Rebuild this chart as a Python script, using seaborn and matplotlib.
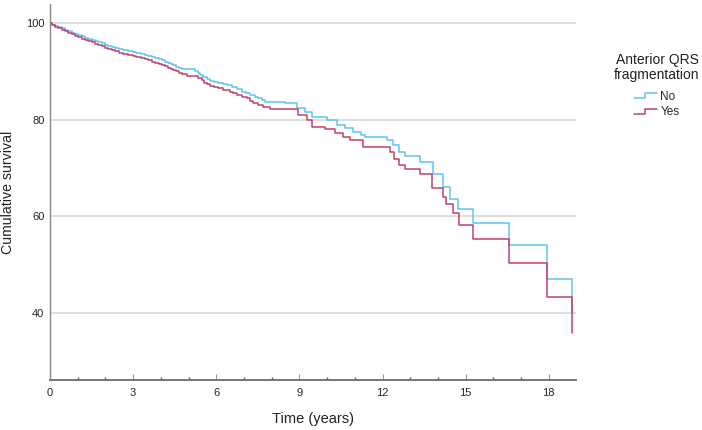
import numpy as np
import pandas as pd
import seaborn as sns
import matplotlib.pyplot as plt
from matplotlib.lines import Line2D
from matplotlib.legend_handler import HandlerBase

# Kaplan-Meier steps (time in years, survival in %)
no_time = [0, 0.08, 0.18, 0.30, 0.42, 0.54, 0.66, 0.78, 0.90, 1.02, 1.14, 1.26, 1.38, 1.50,
           1.62, 1.75, 1.88, 2.00, 2.10, 2.22, 2.35, 2.50, 2.62, 2.72, 2.83, 2.98, 3.12, 3.28,
           3.43, 3.55, 3.68, 3.80, 3.92, 4.03, 4.15, 4.25, 4.36, 4.45, 4.55, 4.65, 4.78, 4.93,
           5.23, 5.35, 5.41, 5.52, 5.65, 5.78, 5.90, 6.07, 6.25, 6.40, 6.55, 6.73, 6.92, 7.08,
           7.22, 7.38, 7.52, 7.64, 7.76, 8.48, 8.9, 9.2, 9.44, 9.98, 10.34, 10.64, 10.94, 11.24,
           11.36, 12.15, 12.39, 12.6, 12.8, 13.35, 13.83, 14.19, 14.45, 14.73, 15.25, 16.55,
           17.92, 18.83]
no_surv = [100, 99.7, 99.4, 99.1, 98.9, 98.6, 98.3, 98.0, 97.8, 97.5, 97.3, 97.0, 96.8, 96.5,
           96.3, 96.0, 95.8, 95.5, 95.3, 95.1, 94.9, 94.7, 94.5, 94.4, 94.2, 94.0, 93.8, 93.6,
           93.4, 93.1, 92.9, 92.7, 92.5, 92.3, 92.0, 91.7, 91.5, 91.3, 91.0, 90.8, 90.6, 90.4,
           90.1, 89.6, 89.2, 88.8, 88.4, 88.1, 87.8, 87.7, 87.4, 87.1, 86.8, 86.3, 85.8, 85.5,
           85.1, 84.8, 84.4, 84.0, 83.7, 83.4, 82.5, 81.6, 80.5, 79.9, 79.0, 78.2, 77.5, 76.8,
           76.5, 75.8, 74.7, 73.4, 72.5, 71.3, 68.7, 66.0, 63.5, 61.6, 58.7, 54.0,
           47.1, 40.0]

yes_time = [0, 0.08, 0.18, 0.30, 0.42, 0.54, 0.66, 0.78, 0.90, 1.02, 1.14, 1.26, 1.38, 1.50,
            1.62, 1.75, 1.88, 2.00, 2.10, 2.22, 2.35, 2.50, 2.62, 2.72, 2.83, 2.98, 3.12, 3.28,
            3.43, 3.55, 3.68, 3.80, 3.92, 4.03, 4.15, 4.25, 4.36, 4.45, 4.55, 4.65, 4.78, 4.93,
            5.23, 5.35, 5.47, 5.56, 5.65, 5.78, 5.90, 6.07, 6.25, 6.49, 6.62, 6.75, 6.92, 7.10,
            7.22, 7.34, 7.50, 7.70, 7.94, 8.96, 9.26, 9.44, 9.92, 10.28, 10.58, 10.82, 11.3,
            12.27, 12.4, 12.6, 12.8, 13.35, 13.8, 14.19, 14.3, 14.55, 14.75, 15.25, 16.55,
            17.92, 18.83]
yes_surv = [100, 99.7, 99.3, 98.9, 98.6, 98.3, 98.0, 97.7, 97.4, 97.1, 96.8, 96.5, 96.2, 96.0,
            95.7, 95.4, 95.2, 94.9, 94.7, 94.5, 94.2, 93.9, 93.7, 93.6, 93.4, 93.2, 93.0, 92.7,
            92.5, 92.3, 92.0, 91.8, 91.6, 91.4, 91.1, 90.8, 90.5, 90.3, 90.0, 89.7, 89.4, 89.1,
            89.0, 88.6, 88.2, 87.7, 87.3, 87.0, 86.8, 86.6, 86.2, 85.8, 85.5, 85.1, 84.8, 84.4,
            83.9, 83.4, 83.0, 82.6, 82.2, 81.0, 79.9, 78.5, 78.0, 77.2, 76.5, 75.8, 74.4,
            73.4, 71.8, 70.6, 69.7, 68.7, 65.8, 64.0, 62.5, 60.6, 58.3, 55.2, 50.4,
            43.3, 35.9]

groups = ['No', 'Yes']
colors = {'No': '#5cc3f5', 'Yes': '#c2406c'}

df = pd.concat([
    pd.DataFrame({'time': no_time, 'surv': no_surv, 'group': 'No'}),
    pd.DataFrame({'time': yes_time, 'surv': yes_surv, 'group': 'Yes'}),
])

sns.set_style('white')
plt.rcParams['font.family'] = ['Liberation Sans', 'DejaVu Sans']

fig = plt.figure(figsize=(7.02, 4.30), dpi=100)
ax = fig.add_axes([50 / 702, 50 / 430, 525.7 / 702, 375.7 / 430])

for y in [40, 60, 80, 100]:
    ax.axhline(y, color='#d4d4d4', lw=1.1, zorder=0)

sns.lineplot(data=df, x='time', y='surv', hue='group', palette=colors,
             estimator=None, drawstyle='steps-post', lw=1.1, legend=False, ax=ax)

ax.set_xlim(0, 18.97)
ax.set_ylim(26.1, 103.9)
ax.set_xticks(range(0, 19, 3))
ax.set_xticks(range(0, 19), minor=True)
ax.set_yticks([40, 60, 80, 100])
ax.tick_params(axis='x', which='major', direction='in', length=4, width=0.8,
               color='#999999', labelsize=8, pad=6, bottom=True)
ax.tick_params(axis='x', which='minor', direction='in', length=2, width=1,
               color='#555555', bottom=True)
ax.tick_params(axis='y', length=0, labelsize=8, pad=4)

for s in ['top', 'right']:
    ax.spines[s].set_visible(False)
ax.spines['bottom'].set_color('#777777')
ax.spines['bottom'].set_linewidth(1.4)
ax.spines['left'].set_color('#888888')
ax.spines['left'].set_linewidth(1.0)

ax.set_xlabel('Time (years)', fontsize=10.5, color='#222222', labelpad=10)
ax.set_ylabel('Cumulative survival', fontsize=10.2, color='#222222')
ax.yaxis.set_label_coords(-0.066, 0.5)


class StepHandler(HandlerBase):
    def create_artists(self, legend, orig, xdescent, ydescent, width, height, fontsize, trans):
        xs = [0, width * 0.45, width * 0.45, width]
        ys = [height * 0.15, height * 0.15, height * 0.8, height * 0.8]
        ln = Line2D([x - xdescent for x in xs], [y - ydescent for y in ys],
                    color=orig.get_color(), lw=1.1)
        ln.set_transform(trans)
        return [ln]


# legend title drawn as its own text so the gap to the entries can match
fig.text(657 / 702, 1 - 53 / 430, 'Anterior QRS\nfragmentation', ha='center', va='top',
         multialignment='center', fontsize=10, linespacing=1.05, color='#222222')

handles = [Line2D([], [], color=colors[g]) for g in groups]
leg = fig.legend(handles, groups, loc='upper center',
                 bbox_to_anchor=(657 / 702, 1 - 80 / 430),
                 frameon=False, fontsize=8.5,
                 handler_map={Line2D: StepHandler()}, handlelength=1.9,
                 handletextpad=0.3, labelspacing=0.3)

fig.savefig('out.png', dpi=100)
